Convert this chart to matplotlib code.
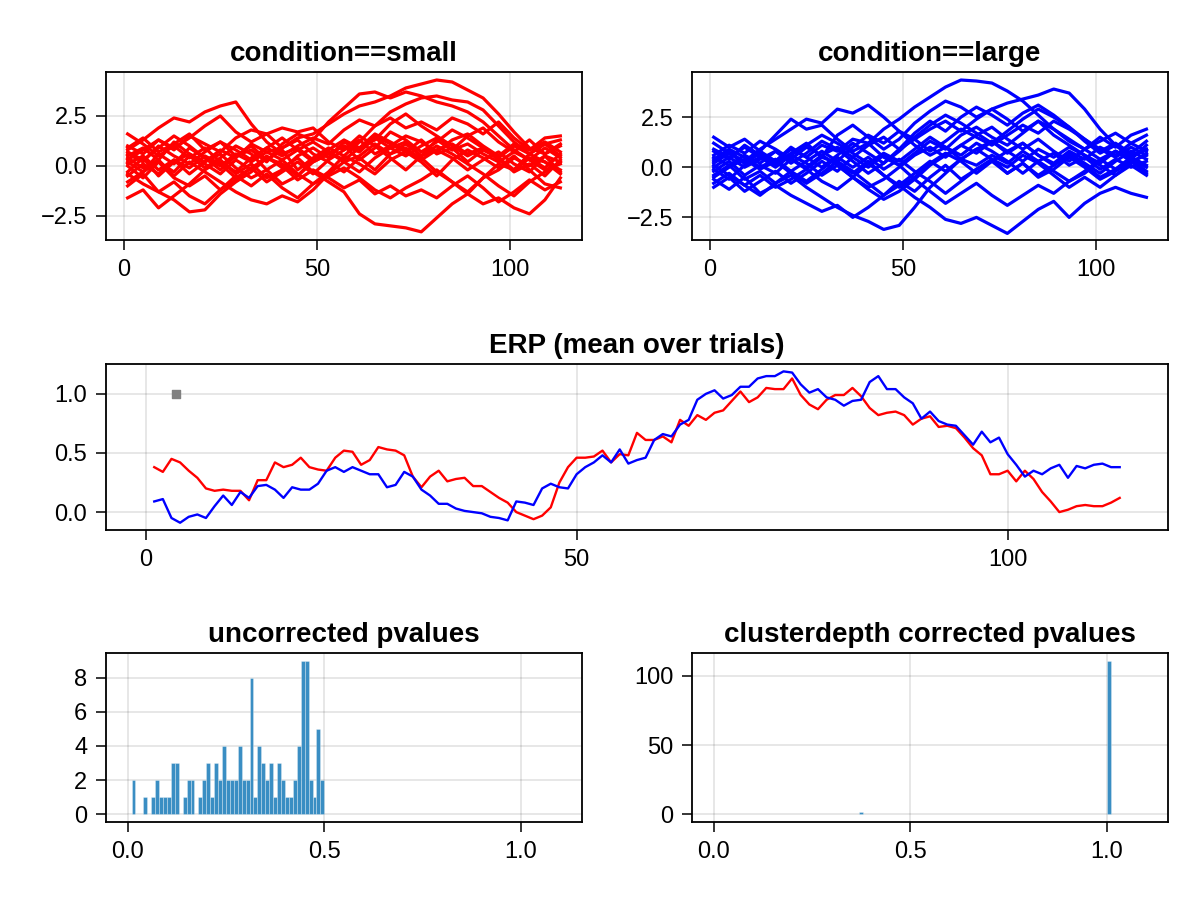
import matplotlib
matplotlib.use("Agg")
import matplotlib.pyplot as plt
import numpy as np

plt.rcParams['font.family'] = ['Liberation Sans', 'DejaVu Sans']
plt.rcParams['font.size'] = 17

# single trials, sampled every 4th time point
trial_x = [1, 5, 9, 13, 17, 21, 25, 29, 33, 37, 41, 45, 49, 53, 57, 61, 65, 69, 73, 77, 81, 85, 89, 93, 97, 101, 105, 109, 113]

small_trials = [
    [0.5, 0.9, 0.3, 1.2, 0.6, 0.2, 0.8, 0.4, 1.1, 0.7, 0.9, 1.4, 1.6, 2.1, 2.6, 3.0, 3.2, 3.5, 3.9, 4.1, 4.3, 4.2, 3.8, 3.4, 2.6, 1.7, 0.9, 0.6, 1.0],
    [-0.3, 0.4, -0.5, 0.2, 0.6, 0.1, -0.4, 0.3, -0.2, 0.5, -0.1, 0.4, -0.3, -0.8, -1.3, -2.4, -2.9, -3.0, -3.1, -3.3, -2.6, -1.9, -1.4, -0.6, 0.1, -0.2, 0.4, 0.2, -0.4],
    [0.8, 1.3, 1.9, 2.4, 2.2, 2.7, 3.0, 3.2, 2.1, 1.2, 0.6, 0.9, 0.3, 0.7, 0.2, 0.5, 1.1, 0.6, 0.9, 0.3, 0.8, 0.4, -0.2, 0.3, 0.7, 0.1, -0.3, 0.5, 0.2],
    [-0.4, -0.9, -1.3, -1.7, -2.3, -2.2, -1.4, -0.8, -0.3, 0.4, 0.1, -0.5, 0.2, 0.6, 1.0, 0.7, 1.4, 0.9, 1.2, 0.5, 0.8, 1.1, 0.6, 0.9, 0.3, -0.2, 0.4, -0.1, 0.6],
    [-1.6, -1.2, -2.1, -1.5, -0.9, -0.2, 0.3, -0.4, 0.1, -0.6, -0.2, 0.5, 0.9, 0.4, 1.2, 0.8, 1.5, 1.1, 0.7, 1.3, 0.6, 0.9, 0.2, 0.8, 0.4, -0.3, 0.1, -0.5, 0.3],
    [0.2, -0.3, 0.6, 0.1, 0.9, 0.4, -0.2, 0.5, 0.8, 0.2, 1.1, 1.6, 1.3, 2.2, 2.9, 3.6, 3.7, 3.4, 3.7, 3.5, 3.2, 3.0, 2.7, 2.2, 1.5, 0.8, 0.3, 0.9, 0.4],
    [0.6, 0.2, 1.0, 0.5, 0.1, 0.7, 1.2, 0.8, 0.3, 0.9, 0.5, 1.0, 1.4, 1.1, 1.8, 2.3, 2.0, 2.7, 3.1, 3.4, 3.5, 3.3, 3.2, 2.8, 2.0, 1.2, 0.6, 1.1, 0.5],
    [0.1, 0.5, -0.2, 0.3, -0.4, 0.2, 0.6, -0.1, -0.6, -0.2, -0.9, -0.5, 0.3, 0.8, 1.3, 0.9, 1.6, 1.2, 0.8, 0.4, -0.3, -0.8, -1.4, -1.9, -1.6, -2.1, -2.4, -1.7, -0.6],
    [0.4, -0.1, 0.3, -0.5, 0.2, -0.3, -0.8, -1.3, -1.7, -1.9, -1.5, -1.8, -1.2, -0.4, 0.2, -0.3, 0.4, 0.9, 0.5, 1.0, 1.4, 0.8, 1.1, 0.6, 0.2, 0.7, 0.3, -0.2, 0.1],
    [1.0, 0.6, 1.3, 0.8, 1.5, 1.1, 0.7, 1.4, 1.8, 1.6, 1.9, 1.7, 1.9, 1.2, 0.8, 1.3, 0.6, 1.0, 1.5, 1.2, 0.7, 1.3, 1.6, 1.0, 0.5, 1.1, 0.8, 1.4, 1.5],
    [-0.5, 0.1, -0.4, 0.3, -0.1, 0.5, 0.1, -0.6, -0.1, 0.4, 0.0, -0.7, -0.2, -0.6, -1.1, -0.7, -1.4, -1.0, -1.5, -1.2, -1.6, -1.0, -0.5, -1.1, -1.8, -1.3, -0.7, -1.2, -0.8],
    [0.9, 1.4, 0.7, 1.1, 1.6, 0.8, 1.2, 0.5, 1.0, 0.3, 0.8, -0.2, 0.4, 0.9, 0.5, 1.2, 2.0, 2.4, 1.9, 2.2, 1.8, 2.4, 2.1, 1.6, 2.2, 1.4, 0.8, 1.2, 0.7],
    [-1.0, -0.4, -1.3, -0.8, -1.5, -1.9, -1.2, -0.5, -1.0, -0.4, -1.1, -1.6, -0.9, -0.3, 0.5, 0.1, -0.4, 0.3, 0.7, 0.2, -0.5, 0.3, 0.8, 0.4, -0.1, 0.5, -0.2, -0.9, -1.1],
    [0.3, 0.8, 1.3, 0.9, 1.4, 2.0, 2.5, 1.7, 1.2, 1.6, 0.9, 1.3, 0.6, 0.2, -0.3, 0.4, -0.2, 0.6, 1.1, 0.5, 1.3, 0.8, 1.5, 1.9, 1.2, 0.7, 1.3, 0.6, 1.1],
    [0.0, -0.6, 0.2, -0.3, 0.5, -0.1, 0.4, 1.0, 0.6, -0.2, 0.3, -0.4, -0.9, -0.5, -0.1, -0.6, -1.2, -1.6, -1.1, -0.7, -0.2, -0.8, -1.3, -0.6, -0.2, 0.4, 0.0, 0.5, -0.3],
    [1.6, 1.1, 0.5, 1.0, 0.4, 0.9, 0.2, -0.3, 0.4, 0.9, 1.4, 0.8, 0.2, 0.6, 1.0, 0.3, 0.9, 1.7, 1.3, 0.7, 1.2, 1.8, 1.4, 0.9, 0.4, -0.2, 0.6, 1.1, 1.3],
    [-0.8, -0.3, 0.2, -0.6, -1.0, -0.5, -1.2, -0.7, -0.1, -0.8, -0.3, 0.2, -0.4, 0.3, 0.8, 1.5, 1.0, 0.4, -0.2, 0.5, 1.0, 0.6, 0.1, -0.4, -1.0, -1.5, -0.8, -0.3, 0.2],
    [0.7, 0.3, 0.9, 1.5, 1.0, 0.4, 0.0, 0.6, 0.2, 0.7, 0.3, 0.8, 1.2, 0.7, 0.3, 0.9, 1.3, 2.1, 2.6, 2.0, 1.5, 1.0, 0.5, 0.9, 0.4, 1.0, 0.6, 0.2, -0.2],
]

large_trials = [
    [0.3, 0.8, 0.2, 0.7, 0.3, 0.9, 0.5, 1.1, 0.8, 1.4, 1.2, 1.9, 2.4, 3.0, 3.5, 4.0, 4.35, 4.3, 4.2, 3.8, 3.3, 2.6, 1.9, 1.3, 0.9, 0.4, 0.8, 0.3, 0.6],
    [-0.2, 0.3, -0.4, 0.1, -0.3, 0.4, -0.1, 0.5, 0.2, -0.3, 0.3, -0.4, -0.9, -1.5, -2.0, -2.6, -2.8, -2.5, -2.9, -3.3, -2.7, -2.1, -1.7, -2.5, -1.8, -1.3, -1.0, -1.3, -1.5],
    [0.5, 0.1, 0.6, 0.2, 0.8, 0.4, 0.0, 0.6, 1.0, 0.5, 1.1, 1.5, 0.9, 1.4, 1.9, 2.3, 1.8, 2.4, 2.9, 3.2, 3.4, 3.6, 3.9, 3.7, 2.9, 1.9, 1.1, 0.6, 0.9],
    [-0.4, 0.1, -0.6, -0.2, -0.8, -0.4, -1.0, -1.5, -2.0, -2.4, -2.7, -3.1, -2.9, -2.0, -1.0, -0.3, 0.4, 0.1, 0.6, 0.2, 0.8, 0.3, 0.7, 0.1, 0.5, -0.1, 0.4, 0.0, 0.3],
    [0.2, 0.7, 0.3, 0.9, 1.4, 1.9, 2.4, 2.2, 2.9, 2.7, 3.1, 2.5, 1.8, 1.1, 0.6, 1.0, 0.4, 0.9, 1.3, 0.7, 1.2, 0.6, 0.2, 0.8, 0.4, 1.0, 0.6, 1.2, 0.8],
    [1.5, 1.0, 1.4, 0.8, 1.6, 2.4, 1.9, 2.1, 1.4, 0.8, 1.2, 0.5, 0.1, 0.7, 1.3, 0.9, 1.6, 2.0, 1.5, 1.1, 1.7, 2.3, 1.9, 1.4, 0.9, 1.3, 1.7, 1.2, 1.6],
    [-0.6, -1.1, -0.5, -1.3, -0.9, -1.4, -1.8, -2.2, -1.9, -2.5, -2.0, -1.4, -0.7, -1.2, -0.5, 0.1, -0.6, -0.1, 0.4, -0.3, 0.2, -0.5, -0.1, 0.5, 0.0, -0.6, -0.2, 0.3, -0.3],
    [0.8, 0.4, 1.1, 0.6, 0.2, 0.7, 1.2, 0.5, 1.6, 2.1, 1.5, 0.9, 1.4, 2.2, 2.8, 3.3, 3.0, 2.5, 2.9, 2.4, 1.8, 2.3, 1.6, 1.1, 0.6, 0.2, 0.8, 0.4, 1.1],
    [-1.0, -0.5, -1.2, -0.7, -0.2, -0.8, -0.3, 0.3, -0.2, 0.5, 0.0, 0.6, 0.1, -0.6, -1.2, -1.8, -1.3, -0.8, -1.4, -1.9, -1.4, -0.9, -1.3, -0.7, -0.2, 0.4, -0.1, 0.5, 0.1],
    [0.4, 0.9, 0.5, 0.0, 0.4, -0.2, 0.3, 0.8, 0.3, 1.0, 1.6, 1.2, 1.8, 1.4, 0.8, 1.3, 1.9, 1.5, 1.1, 1.6, 2.1, 1.7, 2.3, 1.9, 1.4, 0.8, 1.2, 0.7, 1.3],
    [-0.1, -0.6, 0.1, 0.5, 0.0, 0.6, 0.2, -0.4, 0.1, -0.5, -1.1, -1.6, -1.2, -0.6, 0.1, 0.6, 1.1, 0.7, 1.3, 0.8, 0.3, 0.9, 0.5, 1.0, 0.6, 0.1, -0.4, 0.2, 0.7],
    [0.1, -0.4, -0.9, -0.4, -1.0, -0.6, -0.1, -0.7, -1.1, -0.5, 0.2, 0.7, 0.3, 0.9, 1.5, 1.0, 0.6, 1.2, 0.8, 0.3, -0.3, 0.3, -0.2, -0.7, -0.3, 0.3, 0.8, 0.4, 0.0],
    [0.9, 0.5, 0.0, 0.4, 0.8, 0.2, 0.7, 1.3, 0.9, 0.3, -0.3, 0.2, 0.8, 1.5, 2.1, 2.6, 2.2, 1.7, 1.2, 1.8, 2.4, 2.9, 2.5, 2.0, 1.4, 0.9, 0.5, 1.0, 0.6],
    [-0.5, 0.0, 0.4, -0.1, 0.3, -0.3, -0.8, -0.3, 0.3, -0.2, -0.8, -1.4, -0.9, -0.3, 0.3, -0.2, 0.4, 0.9, 0.4, 0.0, 0.6, 0.2, -0.4, -1.0, -0.5, -1.0, -0.4, 0.1, -0.4],
    [0.6, 1.1, 0.7, 1.3, 0.9, 0.4, 1.0, 0.6, 0.1, -0.5, -1.0, -0.6, 0.0, 0.6, 1.0, 0.5, 1.1, 1.6, 2.0, 1.4, 0.9, 1.4, 0.8, 0.3, 0.9, 1.5, 1.0, 1.6, 1.9],
    [0.0, 0.5, 1.0, 0.5, 0.1, 0.6, 1.1, 1.6, 1.2, 0.7, 0.2, -0.4, -1.0, -0.5, 0.2, 0.7, 0.3, -0.3, 0.3, 0.8, 1.2, 0.6, 0.1, 0.7, 0.2, -0.3, 0.3, 0.8, 0.4],
    [1.2, 0.7, 0.2, 0.8, 0.3, 1.0, 0.5, 0.0, 0.6, 1.2, 0.7, 0.2, 0.9, 1.7, 2.3, 1.8, 2.5, 3.0, 2.6, 2.1, 2.7, 3.1, 2.6, 2.0, 1.3, 0.7, 1.1, 0.5, 0.9],
    [-0.8, -0.3, -0.9, -1.4, -0.8, -0.2, -0.7, -0.1, 0.5, 0.0, 0.5, -0.1, 0.4, -0.2, -0.7, -1.3, -0.7, -0.1, 0.3, -0.3, 0.2, -0.4, 0.1, 0.6, 0.1, -0.5, -0.1, 0.4, -0.2],
]

# ERP (mean over trials), time points 1..113
erp_small = [0.38, 0.34, 0.45, 0.42, 0.35, 0.29, 0.20, 0.18, 0.19, 0.18,
             0.18, 0.10, 0.27, 0.27, 0.42, 0.38, 0.40, 0.46, 0.38, 0.36,
             0.35, 0.46, 0.52, 0.51, 0.40, 0.44, 0.55, 0.53, 0.52, 0.48,
             0.30, 0.21, 0.30, 0.35, 0.26, 0.28, 0.29, 0.22, 0.22, 0.17,
             0.12, 0.08, 0.00, -0.03, -0.06, -0.03, 0.04, 0.25, 0.38, 0.46,
             0.46, 0.47, 0.52, 0.42, 0.49, 0.48, 0.67, 0.61, 0.61, 0.64,
             0.59, 0.78, 0.73, 0.82, 0.78, 0.84, 0.86, 0.94, 1.02, 0.93,
             0.97, 1.05, 1.04, 1.04, 1.13, 0.99, 0.91, 0.87, 0.95, 0.99,
             0.99, 1.05, 0.98, 0.88, 0.82, 0.84, 0.85, 0.82, 0.74, 0.79,
             0.81, 0.72, 0.73, 0.71, 0.63, 0.54, 0.48, 0.32, 0.32, 0.35,
             0.26, 0.35, 0.28, 0.17, 0.09, 0.00, 0.02, 0.05, 0.06, 0.05,
             0.05, 0.08, 0.12]
erp_large = [0.09, 0.11, -0.05, -0.09, -0.04, -0.02, -0.05, 0.05, 0.14, 0.06,
             0.17, 0.12, 0.22, 0.23, 0.19, 0.12, 0.21, 0.19, 0.19, 0.24,
             0.35, 0.38, 0.34, 0.38, 0.35, 0.32, 0.32, 0.21, 0.23, 0.34,
             0.30, 0.19, 0.14, 0.07, 0.07, 0.03, 0.01, 0.00, -0.01, -0.04,
             -0.05, -0.07, 0.09, 0.08, 0.06, 0.20, 0.24, 0.21, 0.20, 0.32,
             0.38, 0.42, 0.48, 0.42, 0.53, 0.41, 0.44, 0.46, 0.61, 0.66,
             0.64, 0.74, 0.78, 0.95, 1.00, 1.03, 0.96, 0.99, 1.06, 1.06,
             1.13, 1.15, 1.15, 1.19, 1.18, 1.08, 1.01, 1.04, 0.97, 0.95,
             0.90, 0.94, 0.95, 1.10, 1.15, 1.04, 1.04, 0.97, 0.92, 0.79,
             0.85, 0.77, 0.74, 0.73, 0.65, 0.57, 0.68, 0.59, 0.63, 0.49,
             0.40, 0.30, 0.35, 0.32, 0.37, 0.40, 0.29, 0.39, 0.37, 0.40,
             0.41, 0.38, 0.38]
sig_x = [3.5]
sig_y = [1.0]

# histogram counts, bin width 0.01
unc_counts = [0, 2, 0, 0, 1, 0, 1, 2, 1, 1,
              1, 3, 3, 0, 1, 2, 2, 0, 1, 2,
              3, 1, 3, 2, 4, 2, 2, 2, 4, 2,
              2, 8, 1, 4, 3, 2, 3, 1, 3, 2,
              1, 1, 2, 4, 9, 9, 2, 1, 5, 2]
cor_bins = [0.37, 1.0]
cor_counts = [2, 111]
bin_w = 0.01

hist_color = '#3a8ec3'
grid_kw = dict(color='black', alpha=0.12, linewidth=1.1)

fig = plt.figure(figsize=(12, 9), dpi=100)


def style(ax, title):
    ax.set_title(title, fontweight='bold', fontsize=20, pad=8)
    ax.grid(True, **grid_kw)
    ax.set_axisbelow(True)
    for s in ax.spines.values():
        s.set_linewidth(1.3)
    ax.tick_params(direction='out', length=7.5, width=1.1, labelsize=17, pad=6)


ax1 = fig.add_axes([0.0883, 0.7335, 0.3967, 0.1865])
for tr in small_trials:
    ax1.plot(trial_x, tr, color='red', lw=2.3)
ax1.set_xlim(-4.6, 118.6)
ax1.set_ylim(-3.70, 4.70)
ax1.set_xticks([0, 50, 100])
ax1.set_yticks([-2.5, 0.0, 2.5])
style(ax1, 'condition==small')

ax2 = fig.add_axes([0.5767, 0.7335, 0.3967, 0.1865])
for tr in large_trials:
    ax2.plot(trial_x, tr, color='blue', lw=2.3)
ax2.set_xlim(-4.6, 118.6)
ax2.set_ylim(-3.62, 4.75)
ax2.set_xticks([0, 50, 100])
ax2.set_yticks([-2.5, 0.0, 2.5])
style(ax2, 'condition==large')

ax3 = fig.add_axes([0.0883, 0.4113, 0.885, 0.1846])
t = np.arange(1, len(erp_small) + 1)
ax3.plot(t, erp_small, color='red', lw=1.7)
ax3.plot(t, erp_large, color='blue', lw=1.7)
ax3.scatter(sig_x, sig_y, marker='s', s=30, color='gray', zorder=3)
ax3.set_xlim(-4.6, 118.6)
ax3.set_ylim(-0.150, 1.255)
ax3.set_xticks([0, 50, 100])
ax3.set_yticks([0.0, 0.5, 1.0])
style(ax3, 'ERP (mean over trials)')

ax4 = fig.add_axes([0.0883, 0.0867, 0.3967, 0.1878])
unc_left = np.arange(len(unc_counts)) * bin_w
ax4.bar(unc_left, unc_counts, width=bin_w, align='edge', color=hist_color,
        edgecolor=(1, 1, 1, 0.5), linewidth=0.4)
ax4.set_xlim(-0.055, 1.155)
ax4.set_ylim(-0.45, 9.45)
ax4.set_xticks([0.0, 0.5, 1.0])
ax4.set_yticks([0, 2, 4, 6, 8])
style(ax4, 'uncorrected pvalues')

ax5 = fig.add_axes([0.5767, 0.0867, 0.3967, 0.1878])
ax5.bar(cor_bins, cor_counts, width=bin_w, align='edge', color=hist_color,
        edgecolor=(1, 1, 1, 0.5), linewidth=0.4)
ax5.set_xlim(-0.055, 1.155)
ax5.set_ylim(-5.55, 116.55)
ax5.set_xticks([0.0, 0.5, 1.0])
ax5.set_yticks([0, 50, 100])
style(ax5, 'clusterdepth corrected pvalues')

fig.savefig('out.png', dpi=100)
